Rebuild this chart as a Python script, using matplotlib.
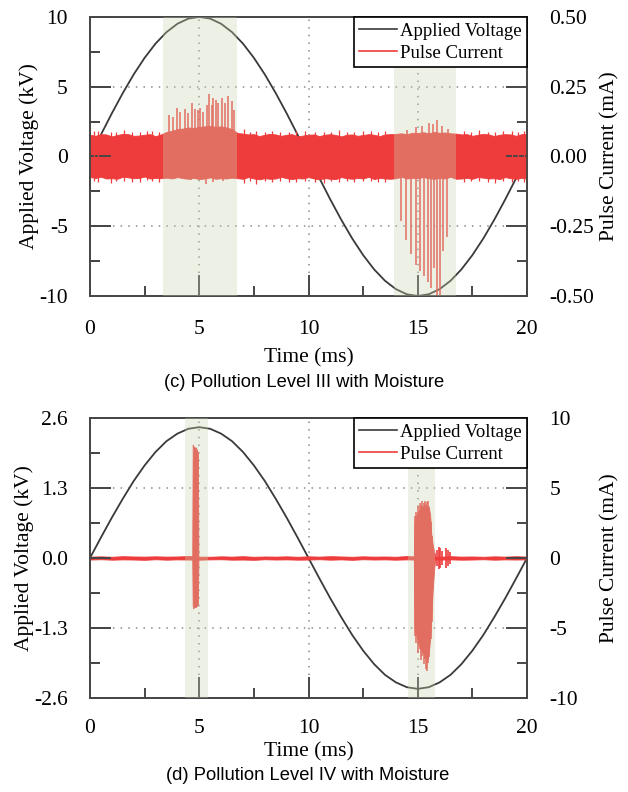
import numpy as np
import matplotlib
matplotlib.use("Agg")
import matplotlib.pyplot as plt
from matplotlib.lines import Line2D
from matplotlib.ticker import MultipleLocator

plt.rcParams["font.family"] = ["Liberation Serif", "DejaVu Serif"]

RED = "#ee3c3c"
SHADE = "#c9d6b0"
VCOL = "#3a3a3a"
SPINE = "#474747"

# ── sample times (ms) ────────────────────────────────────────────────────────
T_V = np.arange(0, 20.01, 0.5)      # voltage samples
T_NC = np.arange(0, 20.01, 0.25)    # noise envelope samples, panel (c)
T_ND = np.arange(0, 20.01, 0.5)     # noise envelope samples, panel (d)

# ── applied voltage (kV) ─────────────────────────────────────────────────────
VOLT_C = [0.0, 1.56, 3.09, 4.54, 5.88, 7.07, 8.09, 8.91, 9.51, 9.88, 10.0,
          9.88, 9.51, 8.91, 8.09, 7.07, 5.88, 4.54, 3.09, 1.56, 0.0,
          -1.56, -3.09, -4.54, -5.88, -7.07, -8.09, -8.91, -9.51, -9.88, -10.0,
          -9.88, -9.51, -8.91, -8.09, -7.07, -5.88, -4.54, -3.09, -1.56, 0.0]
VOLT_D = [0.0, 0.38, 0.75, 1.10, 1.43, 1.72, 1.97, 2.17, 2.31, 2.40, 2.43,
          2.40, 2.31, 2.17, 1.97, 1.72, 1.43, 1.10, 0.75, 0.38, 0.0,
          -0.38, -0.75, -1.10, -1.43, -1.72, -1.97, -2.17, -2.31, -2.40, -2.43,
          -2.40, -2.31, -2.17, -1.97, -1.72, -1.43, -1.10, -0.75, -0.38, 0.0]

# ── panel (c): background noise envelope (mA) ────────────────────────────────
NOISE_HI_C = [0.078, 0.074, 0.080, 0.079, 0.072, 0.077, 0.081, 0.080, 0.074, 0.075,
              0.078, 0.080, 0.073, 0.079,
              0.088, 0.092, 0.098, 0.100, 0.104, 0.102, 0.106, 0.108, 0.110, 0.106,
              0.108, 0.104, 0.098,
              0.084, 0.082, 0.079, 0.080, 0.073, 0.078, 0.081, 0.079, 0.074, 0.078,
              0.080, 0.072, 0.075, 0.078, 0.079, 0.073, 0.078, 0.080, 0.077, 0.072,
              0.078, 0.079, 0.074, 0.077, 0.080, 0.078, 0.073, 0.079, 0.080,
              0.081, 0.083, 0.080, 0.085, 0.084, 0.087, 0.083, 0.088, 0.085, 0.086,
              0.083, 0.082,
              0.079, 0.080, 0.074, 0.078, 0.081, 0.079, 0.073, 0.078, 0.080, 0.079,
              0.074, 0.080, 0.081]
NOISE_LO_C = [-0.074, -0.077, -0.073, -0.079, -0.078, -0.080, -0.073, -0.075, -0.078, -0.077,
              -0.072, -0.079, -0.077, -0.078,
              -0.076, -0.079, -0.074, -0.078, -0.080, -0.077, -0.081, -0.079, -0.075, -0.080,
              -0.078, -0.079, -0.076,
              -0.078, -0.080, -0.074, -0.079, -0.082, -0.078, -0.080, -0.079, -0.073, -0.078,
              -0.081, -0.078, -0.079, -0.074, -0.079, -0.082, -0.078, -0.080, -0.081, -0.074,
              -0.078, -0.080, -0.077, -0.079, -0.073, -0.081, -0.077, -0.079, -0.080,
              -0.078, -0.073, -0.079, -0.077, -0.078, -0.074, -0.078, -0.080, -0.077, -0.079,
              -0.073, -0.080,
              -0.079, -0.077, -0.080, -0.074, -0.076, -0.079, -0.078, -0.081, -0.074, -0.078,
              -0.080, -0.077, -0.079]

# isolated noise hairs poking out of the band
HAIR_T_C = [0.20, 0.35, 0.95, 1.20, 1.55, 1.90, 2.30, 2.60, 2.85, 3.15,
            7.05, 7.30, 7.60, 8.00, 8.35, 8.70, 9.10, 9.45, 9.85, 10.30,
            10.70, 11.05, 11.40, 11.75, 12.10, 12.50, 12.85, 13.20, 13.50,
            17.10, 17.45, 17.80, 18.20, 18.55, 18.90, 19.30, 19.60, 19.85]
HAIR_HI_C = [0.090, 0.092, 0.088, 0.086, 0.095, 0.087, 0.089, 0.091, 0.091, 0.088,
             0.100, 0.086, 0.090, 0.089, 0.093, 0.087, 0.087, 0.090, 0.091, 0.088,
             0.089, 0.086, 0.094, 0.088, 0.088, 0.091, 0.092, 0.087, 0.090,
             0.091, 0.088, 0.094, 0.087, 0.088, 0.090, 0.092, 0.089, 0.093]
HAIR_LO_C = [-0.088, -0.090, -0.094, -0.087, -0.088, -0.091, -0.092, -0.086, -0.089, -0.090,
             -0.095, -0.089, -0.100, -0.088, -0.091, -0.087, -0.093, -0.090, -0.088, -0.092,
             -0.094, -0.088, -0.090, -0.087, -0.092, -0.089, -0.089, -0.091, -0.091,
             -0.093, -0.087, -0.089, -0.091, -0.094, -0.088, -0.090, -0.089, -0.092]

# ── panel (c): discharge pulses (time ms, peak mA) ───────────────────────────
PULSE_T_C1 = [3.62, 3.78, 3.97, 4.12, 4.35, 4.50, 4.65, 4.81, 4.93, 5.03, 5.19,
              5.34, 5.46, 5.57, 5.64, 5.77, 5.87, 6.03, 6.18, 6.33, 6.48, 6.59]
PULSE_V_C1 = [0.149, 0.143, 0.173, 0.161, 0.169, 0.155, 0.191, 0.169, 0.167, 0.173, 0.161,
              0.185, 0.225, 0.185, 0.208, 0.203, 0.191, 0.208, 0.191, 0.215, 0.197, 0.167]
PULSE_T_C1N = [4.60, 5.30, 5.62, 6.10]
PULSE_V_C1N = [-0.085, -0.100, -0.092, -0.088]

PULSE_T_C2 = [14.22, 14.45, 14.70, 14.92, 15.12, 15.30, 15.45, 15.60, 15.75, 15.88,
              16.00, 16.15, 16.35]
PULSE_V_C2 = [-0.23, -0.30, -0.35, -0.39, -0.41, -0.43, -0.45, -0.47, -0.40, -0.50,
              -0.50, -0.34, -0.29]
PULSE_T_C2P = [14.50, 14.90, 15.20, 15.50, 15.70, 15.90, 16.10, 16.40]
PULSE_V_C2P = [0.095, 0.105, 0.110, 0.120, 0.115, 0.130, 0.110, 0.100]

# ── panel (d): background noise envelope (mA) ────────────────────────────────
NOISE_HI_D = [0.10, 0.12, 0.09, 0.13, 0.11, 0.10, 0.12, 0.10, 0.11, 0.14, 0.10,
              0.09, 0.12, 0.10, 0.13, 0.09, 0.11, 0.10, 0.12, 0.09, 0.12,
              0.10, 0.13, 0.11, 0.09, 0.12, 0.10, 0.11, 0.09, 0.14, 0.10,
              0.12, 0.09, 0.13, 0.10, 0.11, 0.09, 0.12, 0.10, 0.13, 0.10]
NOISE_LO_D = [-0.11, -0.09, -0.12, -0.10, -0.11, -0.13, -0.09, -0.12, -0.10, -0.11, -0.12,
              -0.10, -0.09, -0.12, -0.11, -0.13, -0.09, -0.11, -0.10, -0.12, -0.11,
              -0.09, -0.12, -0.10, -0.13, -0.09, -0.11, -0.10, -0.12, -0.10, -0.12,
              -0.09, -0.11, -0.10, -0.12, -0.11, -0.09, -0.12, -0.10, -0.11, -0.10]

# ── panel (d): burst envelopes (mA) ──────────────────────────────────────────
BURST_T_D1 = [4.68, 4.70, 4.72, 4.78, 4.84, 4.90, 4.94, 4.96]
BURST_HI_D1 = [0.3, 8.1, 8.0, 7.9, 7.9, 7.7, 7.5, 0.3]
BURST_LO_D1 = [-0.3, -3.4, -3.6, -3.5, -3.5, -3.4, -3.3, -0.3]

BURST_T_D2 = [14.82, 14.85, 14.95, 15.05, 15.15, 15.25, 15.35, 15.42, 15.50, 15.57,
              15.62, 15.68, 15.74, 15.78]
BURST_HI_D2 = [0.3, 2.6, 3.1, 3.4, 3.6, 3.7, 3.8, 3.6, 3.7, 3.0, 1.7, 1.0, 0.5, 0.3]
BURST_LO_D2 = [-0.3, -5.0, -5.6, -6.2, -6.6, -6.8, -7.0, -7.4, -6.9, -5.7, -4.3, -2.4,
               -1.0, -0.3]
# individual peaks sticking out of the burst-2 envelope
SPIKE_T_D2 = [14.87, 14.93, 15.00, 15.08, 15.14, 15.20, 15.27, 15.33, 15.38, 15.44,
              15.48, 15.53, 15.59, 15.64]
SPIKE_HI_D2 = [3.0, 3.3, 3.7, 3.9, 3.8, 4.1, 3.9, 4.1, 3.8, 4.0, 4.1, 3.6, 2.6, 1.6]
SPIKE_LO_D2 = [-5.6, -6.1, -6.8, -6.5, -7.3, -7.0, -7.6, -7.2, -7.9, -8.1, -7.5, -7.1,
               -5.8, -4.6]

RING_T_D = [15.87, 15.95, 16.03, 16.10, 16.30, 16.38, 16.46]
RING_V_D = [0.6, 0.8, 0.7, 0.5, 0.7, 0.6, 0.4]

SHADES_C = [(3.34, 6.73), (13.9, 16.75)]
SHADES_D = [(4.35, 5.40), (14.55, 15.80)]


def setup_panel(ax, volt, vlim, vstep, vlabels, ilim, istep, ilabels, shades,
                xpad, xlabelpad):
    ax2 = ax.twinx()
    ax.plot(T_V, volt, color=VCOL, lw=1.3)

    ax.set_xlim(0, 20)
    ax.set_ylim(-vlim, vlim)
    ax2.set_ylim(-ilim, ilim)

    ax.xaxis.set_major_locator(MultipleLocator(5))
    ax.xaxis.set_minor_locator(MultipleLocator(2.5))
    ax.set_yticks(np.arange(-2, 3) * vstep)
    ax.set_yticklabels(vlabels)
    ax.yaxis.set_minor_locator(MultipleLocator(vstep / 2))
    ax2.set_yticks(np.arange(-2, 3) * istep)
    ax2.set_yticklabels(ilabels)
    ax2.yaxis.set_minor_locator(MultipleLocator(istep / 2))

    ax.grid(which="major", linestyle=(0, (1, 4)), color="#8a8a8a", lw=1.1)

    for a in (ax, ax2):
        a.tick_params(which="major", direction="in", length=15, width=1.4,
                      color=SPINE, labelsize=15.5, pad=16)
        a.tick_params(which="minor", direction="in", length=7.5, width=1.4,
                      color=SPINE)
        for s in a.spines.values():
            s.set_color(SPINE)
            s.set_linewidth(1.3)
    ax.tick_params(axis="x", which="major", pad=xpad)
    ax.tick_params(which="both", top=False, right=False)
    ax2.tick_params(which="both", left=True, labelleft=False)

    for a0, b0 in shades:
        ax2.axvspan(a0, b0, color=SHADE, alpha=0.32, lw=0, zorder=5)

    ax.set_xlabel("Time (ms)", fontsize=15.5, labelpad=xlabelpad)
    ax.set_ylabel("Applied Voltage (kV)", fontsize=15.5, labelpad=0)
    ax2.set_ylabel("Pulse Current (mA)", fontsize=15.5)
    ax2.yaxis.set_label_coords(1.168, 0.5)

    handles = [Line2D([], [], color=VCOL, lw=1.2), Line2D([], [], color=RED, lw=1.2)]
    leg = ax2.legend(handles, ["Applied Voltage", "Pulse Current"], loc="upper right",
                     borderaxespad=0, fancybox=False, edgecolor="black", framealpha=1,
                     fontsize=13.5, handlelength=2.0, handletextpad=0.15, borderpad=0.3,
                     labelspacing=0.25)
    leg.get_frame().set_linewidth(1.2)
    leg.set_zorder(20)
    return ax2


fig = plt.figure(figsize=(6.28, 7.92), dpi=100)

# ── (c) Pollution Level III ──────────────────────────────────────────────────
ax_c = fig.add_axes([0.1433, 0.6263, 0.6959, 0.3523])
ax_c2 = setup_panel(ax_c, VOLT_C, 10, 5, ["-10", "-5", "0", "5", "10"],
                    0.5, 0.25, ["-0.50", "-0.25", "0.00", "0.25", "0.50"], SHADES_C,
                    xpad=17, xlabelpad=7)
ax_c2.fill_between(T_NC, NOISE_LO_C, NOISE_HI_C, color=RED, lw=0.6, edgecolor=RED)
ax_c2.vlines(HAIR_T_C, HAIR_LO_C, HAIR_HI_C, color=RED, lw=0.9)
ax_c2.vlines(PULSE_T_C1, 0, PULSE_V_C1, color=RED, lw=1.1)
ax_c2.vlines(PULSE_T_C1N, 0, PULSE_V_C1N, color=RED, lw=1.1)
ax_c2.vlines(PULSE_T_C2, 0, PULSE_V_C2, color=RED, lw=1.1)
ax_c2.vlines(PULSE_T_C2P, 0, PULSE_V_C2P, color=RED, lw=1.1)

# ── (d) Pollution Level IV ───────────────────────────────────────────────────
ax_d = fig.add_axes([0.1433, 0.1187, 0.6959, 0.3535])
ax_d2 = setup_panel(ax_d, VOLT_D, 2.6, 1.3, ["-2.6", "-1.3", "0.0", "1.3", "2.6"],
                    10, 5, ["-10", "-5", "0", "5", "10"], SHADES_D,
                    xpad=15, xlabelpad=3)
ax_d2.fill_between(T_ND, NOISE_LO_D, NOISE_HI_D, color=RED, lw=0.6, edgecolor=RED)
ax_d2.fill_between(BURST_T_D1, BURST_LO_D1, BURST_HI_D1, color=RED, lw=0.6, edgecolor=RED)
ax_d2.fill_between(BURST_T_D2, BURST_LO_D2, BURST_HI_D2, color=RED, lw=0.6, edgecolor=RED)
ax_d2.vlines(SPIKE_T_D2, SPIKE_LO_D2, SPIKE_HI_D2, color=RED, lw=1.1)
ax_d2.vlines(RING_T_D, [-v for v in RING_V_D], RING_V_D, color=RED, lw=1.2)

fig.text(0.484, 0.517, "(c) Pollution Level III with Moisture", ha="center", va="center",
         family="Liberation Sans", fontsize=13.2)
fig.text(0.49, 0.021, "(d) Pollution Level IV with Moisture", ha="center", va="center",
         family="Liberation Sans", fontsize=13.2)

fig.savefig("out.png", dpi=100)
